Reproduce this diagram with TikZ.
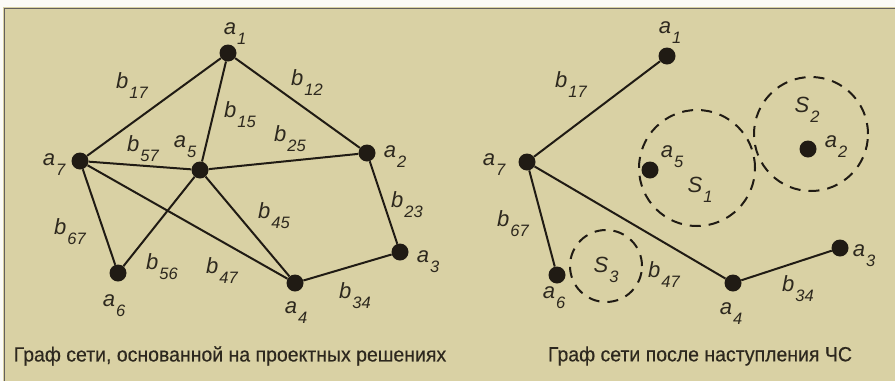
\documentclass[tikz,border=0pt]{standalone}
\usepackage{fontspec}
\setmainfont{Liberation Sans}
\newfontfamily\capfont[FakeStretch=0.95,FakeBold=0.4]{Liberation Sans}
\definecolor{bg}{RGB}{217,209,164}
\definecolor{ink}{RGB}{32,27,20}
\definecolor{txt}{RGB}{45,40,30}
\newcommand\lab[2]{\itshape #1\hspace{1pt}\raisebox{-10pt}{\fontsize{16.5}{16.5}\selectfont\itshape #2}}
\tikzset{
  vtx/.style={circle,fill=ink,inner sep=0pt,minimum size=17pt},
  edge/.style={draw=ink,line width=2pt},
  zone/.style={draw=ink,line width=2pt,dash pattern=on 11pt off 8pt},
  lab/.style={text=txt,inner sep=0pt,font=\fontsize{22}{22}\selectfont},
  captext/.style={text=txt,inner sep=0pt,font=\capfont\fontsize{20.5}{21}\selectfont}
}
\begin{document}
\begin{tikzpicture}[x=1pt,y=-1pt]
\useasboundingbox (0,0) rectangle (895,381);
\fill[bg] (0,0) rectangle (895,381);
\fill[white!90!bg] (0,0) rectangle (895,7);
\fill[white!90!bg] (0,0) rectangle (3,381);
\draw[ink!70,line width=1pt] (4,381) -- (4,8) -- (895,8);
% ---------- left graph ----------
\node[vtx] (a1) at (228,53) {};
\node[vtx] (a2) at (367,153) {};
\node[vtx] (a3) at (400,252) {};
\node[vtx] (a4) at (295,283) {};
\node[vtx] (a5) at (200,170) {};
\node[vtx] (a6) at (118,273) {};
\node[vtx] (a7) at (80,161) {};
\draw[edge] (a1) -- (a7);
\draw[edge] (a1) -- (a2);
\draw[edge] (a1) -- (a5);
\draw[edge] (a5) -- (a2);
\draw[edge] (a7) -- (a5);
\draw[edge] (a2) -- (a3);
\draw[edge] (a3) -- (a4);
\draw[edge] (a5) -- (a4);
\draw[edge] (a7) -- (a4);
\draw[edge] (a7) -- (a6);
\draw[edge] (a5) -- (a6);
\node[lab] (la1) at (235,34) {\lab{a}{1}};
\node[lab] (la2) at (395,157) {\lab{a}{2}};
\node[lab] (la3) at (428,262) {\lab{a}{3}};
\node[lab] (la4) at (296,313) {\lab{a}{4}};
\node[lab] (la5) at (185,147) {\lab{a}{5}};
\node[lab] (la6) at (114,306) {\lab{a}{6}};
\node[lab] (la7) at (54,165) {\lab{a}{7}};
\node[lab] (lb17) at (132,86) {\lab{b}{17}};
\node[lab] (lb12) at (307,83) {\lab{b}{12}};
\node[lab] (lb15) at (240,115) {\lab{b}{15}};
\node[lab] (lb25) at (290,139) {\lab{b}{25}};
\node[lab] (lb57) at (143,149) {\lab{b}{57}};
\node[lab] (lb23) at (407,205) {\lab{b}{23}};
\node[lab] (lb45) at (274,216) {\lab{b}{45}};
\node[lab] (lb67) at (70,232) {\lab{b}{67}};
\node[lab] (lb56) at (162,267) {\lab{b}{56}};
\node[lab] (lb47) at (222,271) {\lab{b}{47}};
\node[lab] (lb34) at (355,296) {\lab{b}{34}};
\node[captext] (cap1) at (230,356) {Граф сети, основанной на проектных решениях};
% ---------- right graph ----------
\node[zone,circle,minimum size=116pt,inner sep=0pt] (s1) at (697,168) {};
\node[zone,circle,minimum size=114pt,inner sep=0pt] (s2) at (811,134) {};
\node[zone,circle,minimum size=72pt,inner sep=0pt] (s3) at (606,266) {};
\node[vtx] (r1) at (667,56) {};
\node[vtx] (r2) at (808,149) {};
\node[vtx] (r3) at (840,248) {};
\node[vtx] (r4) at (733,283) {};
\node[vtx] (r5) at (650,170) {};
\node[vtx] (r6) at (557,275) {};
\node[vtx] (r7) at (527,162) {};
\draw[edge] (r7) -- (r1);
\draw[edge] (r7) -- (r6);
\draw[edge] (r7) -- (r4);
\draw[edge] (r4) -- (r3);
\node[lab] (ra1) at (670,33) {\lab{a}{1}};
\node[lab] (ra2) at (836,147) {\lab{a}{2}};
\node[lab] (ra3) at (864,256) {\lab{a}{3}};
\node[lab] (ra4) at (731,314) {\lab{a}{4}};
\node[lab] (ra5) at (672,157) {\lab{a}{5}};
\node[lab] (ra6) at (554,298) {\lab{a}{6}};
\node[lab] (ra7) at (494,165) {\lab{a}{7}};
\node[lab] (rb17) at (571,85) {\lab{b}{17}};
\node[lab] (rb67) at (513,224) {\lab{b}{67}};
\node[lab] (rb47) at (664,275) {\lab{b}{47}};
\node[lab] (rb34) at (798,289) {\lab{b}{34}};
\node[lab] (rs1) at (700,190) {\lab{S}{1}};
\node[lab] (rs2) at (807,110) {\lab{S}{2}};
\node[lab] (rs3) at (606,270) {\lab{S}{3}};
\node[captext] (cap2) at (700,356) {Граф сети после наступления ЧС};
\end{tikzpicture}
\end{document}
